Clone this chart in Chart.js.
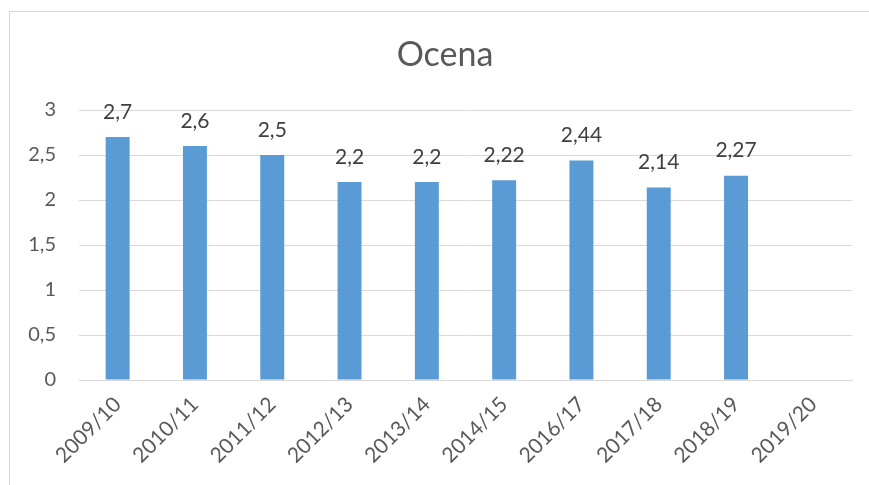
<!DOCTYPE html>
<html>
<head>
<meta charset="utf-8">
<script src="https://cdn.jsdelivr.net/npm/chart.js@4"></script>
<style>
  html, body { margin: 0; padding: 0; background: #fff; overflow: hidden; }
  #wrap { position: relative; width: 869px; height: 485px; }
  #frame { position: absolute; left: 9px; top: 11px; width: 880px; height: 500px; border: 1px solid #d9d9d9; box-sizing: border-box; }
  canvas { position: absolute; left: 0; top: 0; }
</style>
</head>
<body>
<div id="wrap">
  <div id="frame"></div>
  <canvas id="ocenaChart" width="869" height="485"></canvas>
</div>
<script>
const seasons = ['2009/10', '2010/11', '2011/12', '2012/13', '2013/14', '2014/15', '2016/17', '2017/18', '2018/19', '2019/20'];
const grades = [2.7, 2.6, 2.5, 2.2, 2.2, 2.22, 2.44, 2.14, 2.27, null];
const yTicks = [0, 0.5, 1, 1.5, 2, 2.5, 3];
const chartTitle = 'Ocena';

const fontFamily = 'Lato, "Liberation Sans", sans-serif';

function comma(v) {
    return String(v).replace('.', ',');
}

// labels above the bars, like excel does
const valueLabels = {
    id: 'valueLabels',
    afterDatasetsDraw(chart) {
        const ctx = chart.ctx;
        const meta = chart.getDatasetMeta(0);
        ctx.save();
        ctx.font = '21px ' + fontFamily;
        ctx.fillStyle = '#404040';
        ctx.textAlign = 'center';
        ctx.textBaseline = 'middle';
        meta.data.forEach((bar, i) => {
            const v = grades[i];
            if (v === null) return;
            ctx.fillText(comma(v), bar.x, bar.y - 25);
        });
        ctx.restore();
    }
};

// title is centred on the chart frame, not on the canvas
const frameTitle = {
    id: 'frameTitle',
    afterDraw(chart) {
        const ctx = chart.ctx;
        ctx.save();
        ctx.font = '34px ' + fontFamily;
        ctx.fillStyle = '#595959';
        ctx.textAlign = 'center';
        ctx.textBaseline = 'middle';
        ctx.fillText(chartTitle, 445, 55);
        ctx.restore();
    }
};

document.addEventListener('DOMContentLoaded', function() {
    const ctx = document.getElementById('ocenaChart');
    new Chart(ctx, {
        type: 'bar',
        data: {
            labels: seasons,
            datasets: [{
                label: 'Ocena',
                data: grades,
                backgroundColor: '#5b9bd5',
                categoryPercentage: 1,
                barPercentage: 0.31
            }]
        },
        options: {
            responsive: false,
            animation: false,
            layout: { padding: { left: 0, right: 17, top: 110, bottom: 0 } },
            plugins: {
                legend: { display: false },
                tooltip: { enabled: false },
                title: { display: false }
            },
            scales: {
                x: {
                    grid: { display: false },
                    border: { color: '#d9d9d9' },
                    ticks: {
                        color: '#595959',
                        font: { family: fontFamily, size: 21 },
                        minRotation: 45,
                        maxRotation: 45,
                        padding: 4
                    },
                    afterFit(scale) { scale.height = 105; }
                },
                y: {
                    min: 0,
                    max: 3,
                    afterBuildTicks(scale) { scale.ticks = yTicks.map(v => ({ value: v })); },
                    grid: { color: '#d9d9d9', drawTicks: false },
                    border: { display: false },
                    ticks: {
                        color: '#595959',
                        font: { family: fontFamily, size: 20 },
                        padding: 23,
                        callback: v => comma(v)
                    },
                    afterFit(scale) { scale.width = 79; }
                }
            }
        },
        plugins: [valueLabels, frameTitle]
    });
});
</script>
</body>
</html>
